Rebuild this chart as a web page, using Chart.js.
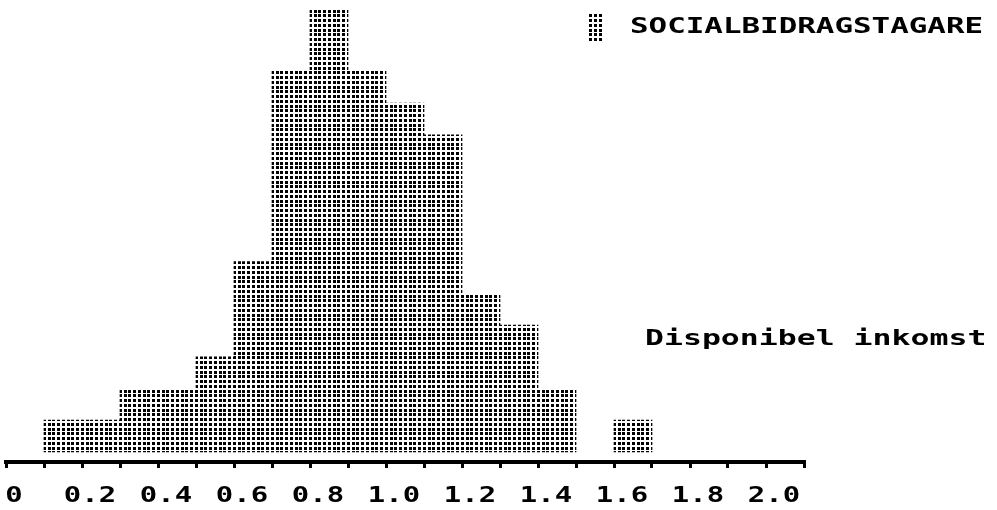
<!DOCTYPE html>
<html><head><meta charset="utf-8">
<script src="https://cdn.jsdelivr.net/npm/chart.js@4/dist/chart.umd.min.js"></script>
<style>html,body{margin:0;padding:0;background:#fff}#wrap{width:997px;height:510px;position:relative}</style>
</head><body><div id="wrap"><canvas id="c" width="997" height="510"></canvas></div>
<script>
// Histogram bins (class centres, width 0.1) and counts
const binCenters = [0.15,0.25,0.35,0.45,0.55,0.65,0.75,0.85,0.95,1.05,1.15,1.25,1.35,1.45,1.55,1.65];
const counts     = [1,   1,   2,   2,   3,   6,   12,  14,  12,  11,  10,  5,   4,   2,   0,   1];
const tickValues = [0,0.2,0.4,0.6,0.8,1.0,1.2,1.4,1.6,1.8,2.0];
const tickLabels = ['0','0.2','0.4','0.6','0.8','1.0','1.2','1.4','1.6','1.8','2.0'];
const seriesName = 'SOCIALBIDRAGSTAGARE';
const axisTitle  = 'Disponibel inkomst';

const canvas = document.getElementById('c');
const ctx0 = canvas.getContext('2d');
function makePattern(ctx){
  const p = document.createElement('canvas'); p.width = 19; p.height = 19;
  const g = p.getContext('2d'); g.fillStyle = '#000';
  for (let i = 0; i < 4; i++) for (let j = 0; j < 4; j++)
    g.fillRect(Math.round(i*4.75), Math.round(j*4.75), 3, 3);
  return ctx.createPattern(p, 'repeat');
}
const dots = makePattern(ctx0);
const FONT = 'bold 21px "DejaVu Sans Mono"';

// widen glyphs horizontally to mimic the wide bitmap font of the original
let stretch = 1.4;
const origFillText = ctx0.fillText.bind(ctx0);
ctx0.fillText = function(t, x, y){
  this.save();
  this.translate(x, y);
  this.scale(stretch, 1);
  origFillText(t, 0, 0);
  this.restore();
};

const textPlugin = {
  id: 'texts',
  beforeDraw(chart){ stretch = 1.38; },
  afterDraw(chart){
    const ctx = chart.ctx;
    ctx.save();
    stretch = 1.47;
    ctx.font = FONT;
    ctx.textAlign = 'left';
    ctx.textBaseline = 'alphabetic';
    ctx.fillStyle = dots;
    ctx.fillRect(588, 13, 14, 30);
    ctx.fillStyle = '#000';
    ctx.fillText(seriesName, 630, 33);
    stretch = 1.5;
    ctx.fillText(axisTitle, 645, 345);
    ctx.restore();
  }
};

new Chart(canvas, {
  type: 'bar',
  data: {
    datasets: [{
      label: seriesName,
      data: binCenters.map((x, i) => ({x: x, y: counts[i]})),
      backgroundColor: (c) => (c.raw && c.raw.y === 0) ? 'rgba(0,0,0,0)' : dots,
      borderWidth: 0,
      barPercentage: 1.0,
      categoryPercentage: 1.0
    }]
  },
  options: {
    responsive: false,
    devicePixelRatio: 1,
    animation: false,
    layout: { padding: { left: 6, right: 193, top: 8, bottom: 0 } },
    plugins: { legend: { display: false }, tooltip: { enabled: false } },
    scales: {
      x: {
        type: 'linear', min: 0, max: 2.1, offset: false,
        grid: { display: true, drawOnChartArea: false, drawTicks: true, tickLength: 6, lineWidth: 3, color: '#000', offset: false },
        border: { display: true, color: '#000', width: 4, dash: [16, 4] },
        ticks: {
          stepSize: 0.1, autoSkip: false, maxRotation: 0, minRotation: 0,
          labelOffset: 8, padding: 16, color: '#000',
          font: { family: '"DejaVu Sans Mono"', size: 21, weight: 'bold' },
          callback: (v) => {
            const k = tickValues.findIndex(t => Math.abs(t - v) < 1e-6);
            return k >= 0 ? tickLabels[k] : '';
          }
        },
        afterFit(s){ s.height = 48; s.paddingLeft = 0; s.paddingRight = 0; }
      },
      y: { display: false, min: -0.32, max: 14 }
    }
  },
  plugins: [textPlugin]
});
</script>
</body></html>
